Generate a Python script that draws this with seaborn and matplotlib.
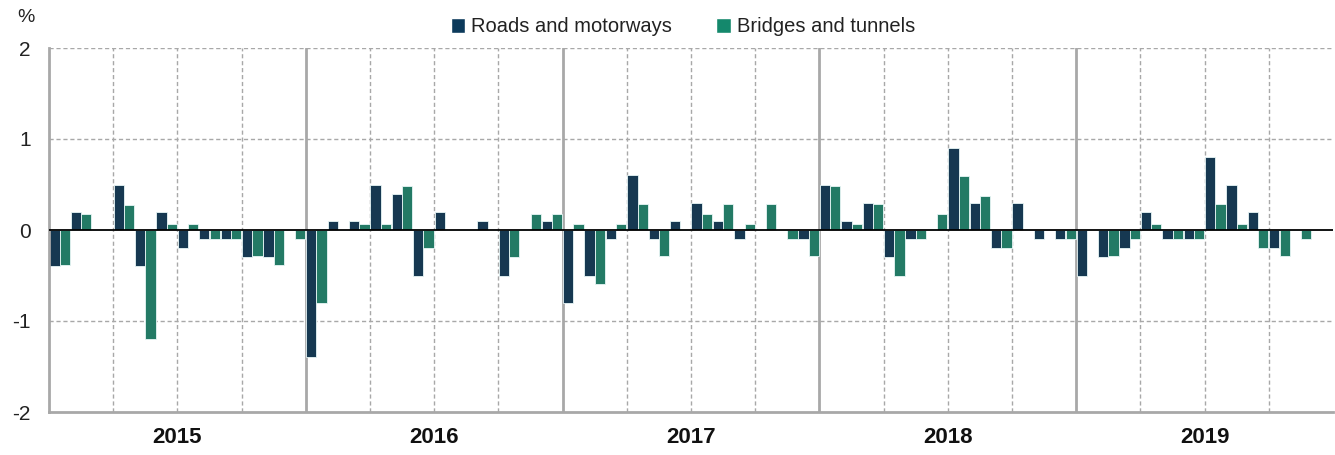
# Monthly change, roads vs bridges, 2015-2019
import matplotlib
matplotlib.use("Agg")
import matplotlib.pyplot as plt
import matplotlib.transforms as mtransforms
from matplotlib.patches import Patch
import pandas as pd
import seaborn as sns

# data (% change per month)
years = [2015, 2016, 2017, 2018, 2019]
series_names = ["Roads and motorways", "Bridges and tunnels"]

roads = [
    -0.4, 0.2, 0, 0.5, -0.4, 0.2, -0.2, -0.1, -0.1, -0.3, -0.3, 0,      # 2015
    -1.4, 0.1, 0.1, 0.5, 0.4, -0.5, 0.2, 0, 0.1, -0.5, 0, 0.1,          # 2016
    -0.8, -0.5, -0.1, 0.6, -0.1, 0.1, 0.3, 0.1, -0.1, 0, 0, -0.1,        # 2017
    0.5, 0.1, 0.3, -0.3, -0.1, 0, 0.9, 0.3, -0.2, 0.3, -0.1, -0.1,       # 2018
    -0.5, -0.3, -0.2, 0.2, -0.1, -0.1, 0.8, 0.5, 0.2, -0.2, 0, 0,        # 2019
]
bridges = [
    -0.39, 0.18, 0, 0.28, -1.2, 0.07, 0.07, -0.1, -0.1, -0.29, -0.39, -0.1,
    -0.8, 0, 0.07, 0.07, 0.48, -0.2, 0, 0, 0, -0.3, 0.18, 0.18,
    0.07, -0.59, 0.07, 0.29, -0.29, 0, 0.18, 0.29, 0.07, 0.29, -0.1, -0.29,
    0.48, 0.07, 0.29, -0.5, -0.1, 0.18, 0.59, 0.37, -0.2, 0, 0, -0.1,
    0, -0.29, -0.1, 0.07, -0.1, -0.1, 0.29, 0.07, -0.2, -0.29, -0.1, 0,
]

navy = "#0c3a5b"
green = "#14886c"

# long table for seaborn
months = list(range(len(roads)))
df = pd.DataFrame({
    "month": months * 2,
    "value": roads + bridges,
    "series": [series_names[0]] * len(roads) + [series_names[1]] * len(bridges),
})

sns.set_style("white")
plt.rcParams["font.family"] = ["Liberation Sans Narrow", "Liberation Sans", "DejaVu Sans"]
plt.rcParams["axes.unicode_minus"] = False

fig = plt.figure(figsize=(13.35, 4.55), dpi=100)
ax = fig.add_axes([49 / 1335, 1 - 412 / 455, (1333 - 49) / 1335, (412 - 48) / 455])

sns.barplot(data=df, x="month", y="value", hue="series", order=months,
            hue_order=series_names, palette=[navy, green], width=0.97,
            errorbar=None, legend=False, edgecolor="#e8f6f6", linewidth=0.6,
            ax=ax, zorder=2)

ax.set_xlim(-0.5, len(months) - 0.5)
ax.set_ylim(-2, 2)
ax.set_yticks([-2, -1, 0, 1, 2])
ax.set_yticklabels(["-2", "-1", "0", "1", "2"])
ax.tick_params(axis="y", length=0, pad=13, labelsize=15, labelcolor="#222222")
ax.set_xticks([])
ax.set_xlabel("")
ax.set_ylabel("")

# grid and separators
for yv in [-1, 1, 2]:
    ax.axhline(yv, color="#a8a8a8", lw=1, ls=(0, (3, 2)), zorder=0)
for i in range(1, len(months) // 3):
    b = i * 3 - 0.5
    if i % 4 == 0:
        ax.axvline(b, color="#a8a8a8", lw=2, zorder=0)
    else:
        ax.axvline(b, color="#a8a8a8", lw=1, ls=(0, (3, 2)), zorder=0)
ax.axhline(0, color="black", lw=1.3, zorder=3)

for s in ["top", "right"]:
    ax.spines[s].set_visible(False)
ax.spines["left"].set_color("#a8a8a8")
ax.spines["left"].set_linewidth(2)
ax.spines["bottom"].set_color("#a8a8a8")
ax.spines["bottom"].set_linewidth(2)

# year labels under each block of 12 months
trans = mtransforms.blended_transform_factory(ax.transData, ax.transAxes)
for i, yr in enumerate(years):
    ax.text(i * 12 + 5.5, -0.07, str(yr), transform=trans, ha="center",
            va="center", fontsize=16, fontweight="bold", color="#111111")

fig.text(17 / 1335, 1 - 17 / 455, "%", fontsize=14, ha="left", va="center",
         color="#222222")

handles = [Patch(facecolor=navy), Patch(facecolor=green)]
fig.legend(handles, series_names, loc="center", ncol=2,
           bbox_to_anchor=(683 / 1335, 1 - 27 / 455), frameon=False,
           fontsize=14.5, handlelength=0.7, handleheight=0.7,
           handletextpad=0.3, columnspacing=2.2, labelcolor="#222222")

plt.savefig("out.png", dpi=100)
